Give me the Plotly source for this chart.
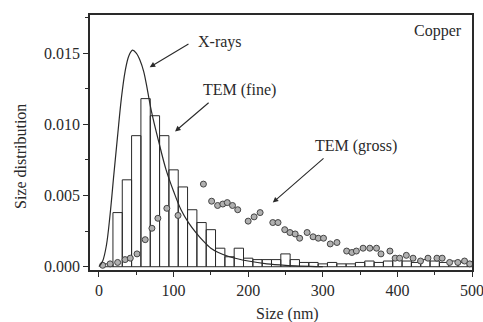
import plotly.graph_objects as go

# Histogram: TEM (fine)
bin_centers = [12.5, 25, 37.5, 50, 62.5, 75, 87.5, 100, 112.5, 125, 137.5, 150, 162.5, 175,
               187.5, 200, 212.5, 225, 237.5, 250, 262.5, 275, 287.5, 300, 312.5, 325, 337.5,
               350, 362.5, 375, 387.5, 400, 412.5, 425, 437.5, 450, 462.5, 475, 487.5, 500]
tem_fine = [0.0002, 0.0038, 0.0061, 0.0092, 0.0118, 0.0106, 0.0092, 0.0068, 0.0056, 0.0040,
            0.0031, 0.0026, 0.0013, 0.0007, 0.0013, 0.0006, 0.0005, 0.0005, 0.0005, 0.0009,
            0.0005, 0.0003, 0.0003, 0.0002, 0.0003, 0.0002, 0.0002, 0.0003, 0.0004, 0.0003,
            0.0004, 0.0005, 0.0004, 0.0003, 0.0005, 0.0004, 0.0003, 0.0004, 0.0003, 0.0002]

# X-ray curve
xray_size = [0, 5, 10, 15, 20, 25, 30, 35, 40, 45, 50, 55, 60, 65, 70, 80, 90, 100, 110,
             120, 130, 140, 150, 160, 175, 200, 225, 250, 300]
xray_val = [0.0000, 0.0004, 0.0015, 0.0037, 0.0065, 0.0092, 0.0118, 0.0137, 0.0148, 0.0152,
            0.0150, 0.0145, 0.0137, 0.0124, 0.0110, 0.0088, 0.0068, 0.0053, 0.0040,
            0.0031, 0.0024, 0.0018, 0.0013, 0.0010, 0.0007, 0.0004, 0.0002, 0.0001, 0.0000]

# TEM (gross) points
gross_size = [5, 15, 25, 35, 42, 51, 62, 71, 79, 91, 106, 140, 151, 159, 166, 172, 179, 186,
              200, 208, 216, 233, 240, 249, 256, 263, 269, 279, 287, 294, 301, 310, 319, 332,
              339, 345, 354, 363, 372, 378, 390, 397, 403, 412, 421, 431, 441, 453, 460, 470,
              481, 490, 497]
gross_val = [0.0001, 0.0002, 0.0003, 0.0005, 0.0006, 0.0009, 0.0019, 0.0027, 0.0034, 0.0041,
             0.0036, 0.0058, 0.0046, 0.0043, 0.0044, 0.0045, 0.0043, 0.0040, 0.0032, 0.0035,
             0.0038, 0.0031, 0.0031, 0.0026, 0.0024, 0.0023, 0.0020, 0.0024, 0.0021, 0.0020,
             0.0020, 0.0016, 0.0017, 0.0011, 0.0010, 0.0011, 0.0013, 0.0013, 0.0013, 0.0009,
             0.0011, 0.0006, 0.0006, 0.0008, 0.0006, 0.0004, 0.0006, 0.0006, 0.0006, 0.0003,
             0.0003, 0.0004, 0.0002]

ink = "#2a2a2a"
font = "Liberation Serif"
FS = 16

W, H = 483, 322
L, R, T, B = 90, 11, 15, 52
pw, ph = W - L - R, H - T - B

fig = go.Figure()
fig.add_trace(go.Bar(x=bin_centers, y=tem_fine, width=12.5,
                     marker=dict(color="rgba(255,255,255,0)", line=dict(color=ink, width=1))))
fig.add_trace(go.Scatter(x=gross_size, y=gross_val, mode="markers",
                         marker=dict(symbol="circle", size=6, color="#b0b0b0",
                                     line=dict(color="#444", width=1))))
fig.add_trace(go.Scatter(x=xray_size, y=xray_val, mode="lines",
                         line=dict(color=ink, width=1.2, shape="spline")))


def arrow(tx, ty, hx, hy):
    return dict(x=hx, y=hy, ax=tx, ay=ty, xref="x", yref="y", axref="x", ayref="y",
                text="", showarrow=True, arrowhead=2, arrowsize=1, arrowwidth=1.1,
                arrowcolor=ink)


def label(x, y, text, **kw):
    d = dict(x=x, y=y, xref="x", yref="y", text=text, showarrow=False,
             font=dict(family=font, size=FS, color=ink))
    d.update(kw)
    return d


anns = [
    arrow(122, 0.0157, 68, 0.0140),
    arrow(149, 0.0116, 102, 0.0095),
    arrow(303, 0.0077, 233, 0.0045),
    label(162, 0.0158, "X-rays"),
    label(189, 0.0124, "TEM (fine)"),
    label(344, 0.0085, "TEM (gross)"),
    label(489, 0.01655, "Copper", xanchor="right"),
    dict(xref="paper", yref="paper", x=(20 - L) / pw, y=(H - B - 157) / ph,
         xanchor="center", yanchor="middle",
         text="Size distribution", showarrow=False, textangle=-90,
         font=dict(family=font, size=FS, color=ink)),
    dict(xref="paper", yref="paper", x=(287 - L) / pw, y=(H - B - 314) / ph,
         xanchor="center", yanchor="middle",
         text="Size (nm)", showarrow=False,
         font=dict(family=font, size=FS, color=ink)),
]

fig.update_layout(
    width=W, height=H, margin=dict(l=L, r=R, t=T, b=B),
    paper_bgcolor="white", plot_bgcolor="white", showlegend=False,
    font=dict(family=font, size=FS, color=ink),
    annotations=anns,
)
fig.update_xaxes(range=[-12, 500], showgrid=False, zeroline=False, automargin=False,
                 showline=True, linecolor=ink, linewidth=1.5, mirror=True,
                 ticks="outside", ticklen=5, tickcolor=ink, dtick=100, tick0=0,
                 ticklabeloverflow="allow",
                 minor=dict(ticks="outside", ticklen=3, dtick=50, tickcolor=ink),
                 tickfont=dict(family=font, size=FS, color=ink))
fig.update_yaxes(range=[-0.00023, 0.01767], showgrid=False, zeroline=False, automargin=False,
                 showline=True, linecolor=ink, linewidth=1.5, mirror=True,
                 ticks="outside", ticklen=5, tickcolor=ink, dtick=0.005, tick0=0,
                 tickformat=".3f",
                 minor=dict(ticks="outside", ticklen=3, dtick=0.0025, tickcolor=ink),
                 tickfont=dict(family=font, size=FS, color=ink))

fig.write_html("out.html", config={"displayModeBar": False},
               post_script="document.body.style.margin='0';document.body.style.padding='0';")
